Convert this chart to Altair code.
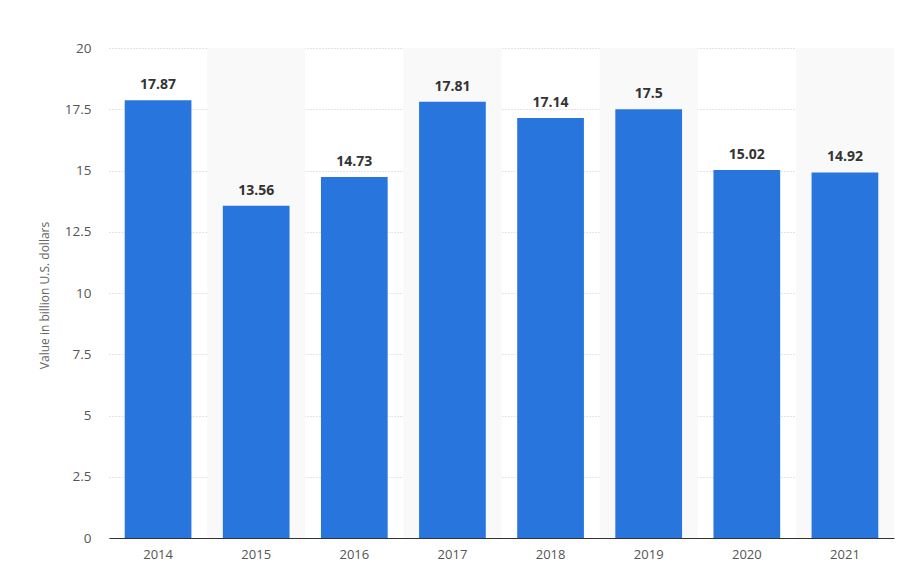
import altair as alt
import pandas as pd

years = ["2014", "2015", "2016", "2017", "2018", "2019", "2020", "2021"]
values = [17.87, 13.56, 14.73, 17.81, 17.14, 17.5, 15.02, 14.92]
shaded = ["2015", "2017", "2019", "2021"]
y_ticks = [0, 2.5, 5, 7.5, 10, 12.5, 15, 17.5, 20]

df = pd.DataFrame({"year": years, "value": values,
                   "label": [f"{v:g}" for v in values]})
bg = pd.DataFrame({"year": shaded})

FONT = "Open Sans"

x_scale = alt.Scale(domain=years, paddingInner=0.32, paddingOuter=0.16)
x_axis = alt.Axis(labelAngle=0, labelColor="#555555", labelFontSize=13,
                  labelFont=FONT, labelPadding=10, ticks=False, bandPosition=0.5,
                  domainColor="#333333", domainWidth=1.2, grid=False)

bands = alt.Chart(bg).mark_bar(color="#F9F9F9", width={"band": 1.47}).encode(
    x=alt.X("year:N", sort=years, title=None, scale=x_scale, axis=x_axis),
    y=alt.value(0),
    y2=alt.value(490),
)

bars = alt.Chart(df).mark_bar(color="#2876DD").encode(
    x=alt.X("year:N", sort=years, title=None, scale=x_scale, axis=x_axis),
    y=alt.Y("value:Q", title="Value in billion U.S. dollars",
            scale=alt.Scale(domain=[0, 20], nice=False),
            axis=alt.Axis(values=y_ticks, labelExpr="'' + datum.value",
                          labelColor="#555555",
                          labelFontSize=13.5, labelFont=FONT, labelPadding=18,
                          ticks=False, domain=False,
                          gridColor="#C8C8C8", gridDash=[1, 2], gridWidth=1,
                          titleFont=FONT, titleFontSize=12, titleColor="#666666",
                          titleFontWeight="normal", titleX=-65, titleY=247,
                          titleAngle=-90, titleAlign="center", titleBaseline="middle")),
)

labels = alt.Chart(df).mark_text(dy=-15, font=FONT, fontSize=14, fontWeight="bold",
                                 color="#333333").encode(
    x=alt.X("year:N", sort=years, scale=x_scale),
    y="value:Q",
    text="label:N",
)

chart = alt.layer(bands, bars, labels).properties(
    width=785, height=490,
    background="white",
    autosize=alt.AutoSizeParams(type="none"),
    padding={"left": 101, "top": 40, "right": 2, "bottom": 30},
).configure_view(stroke=None)

chart.save("out.html", embed_options={"renderer": "svg", "actions": False})
